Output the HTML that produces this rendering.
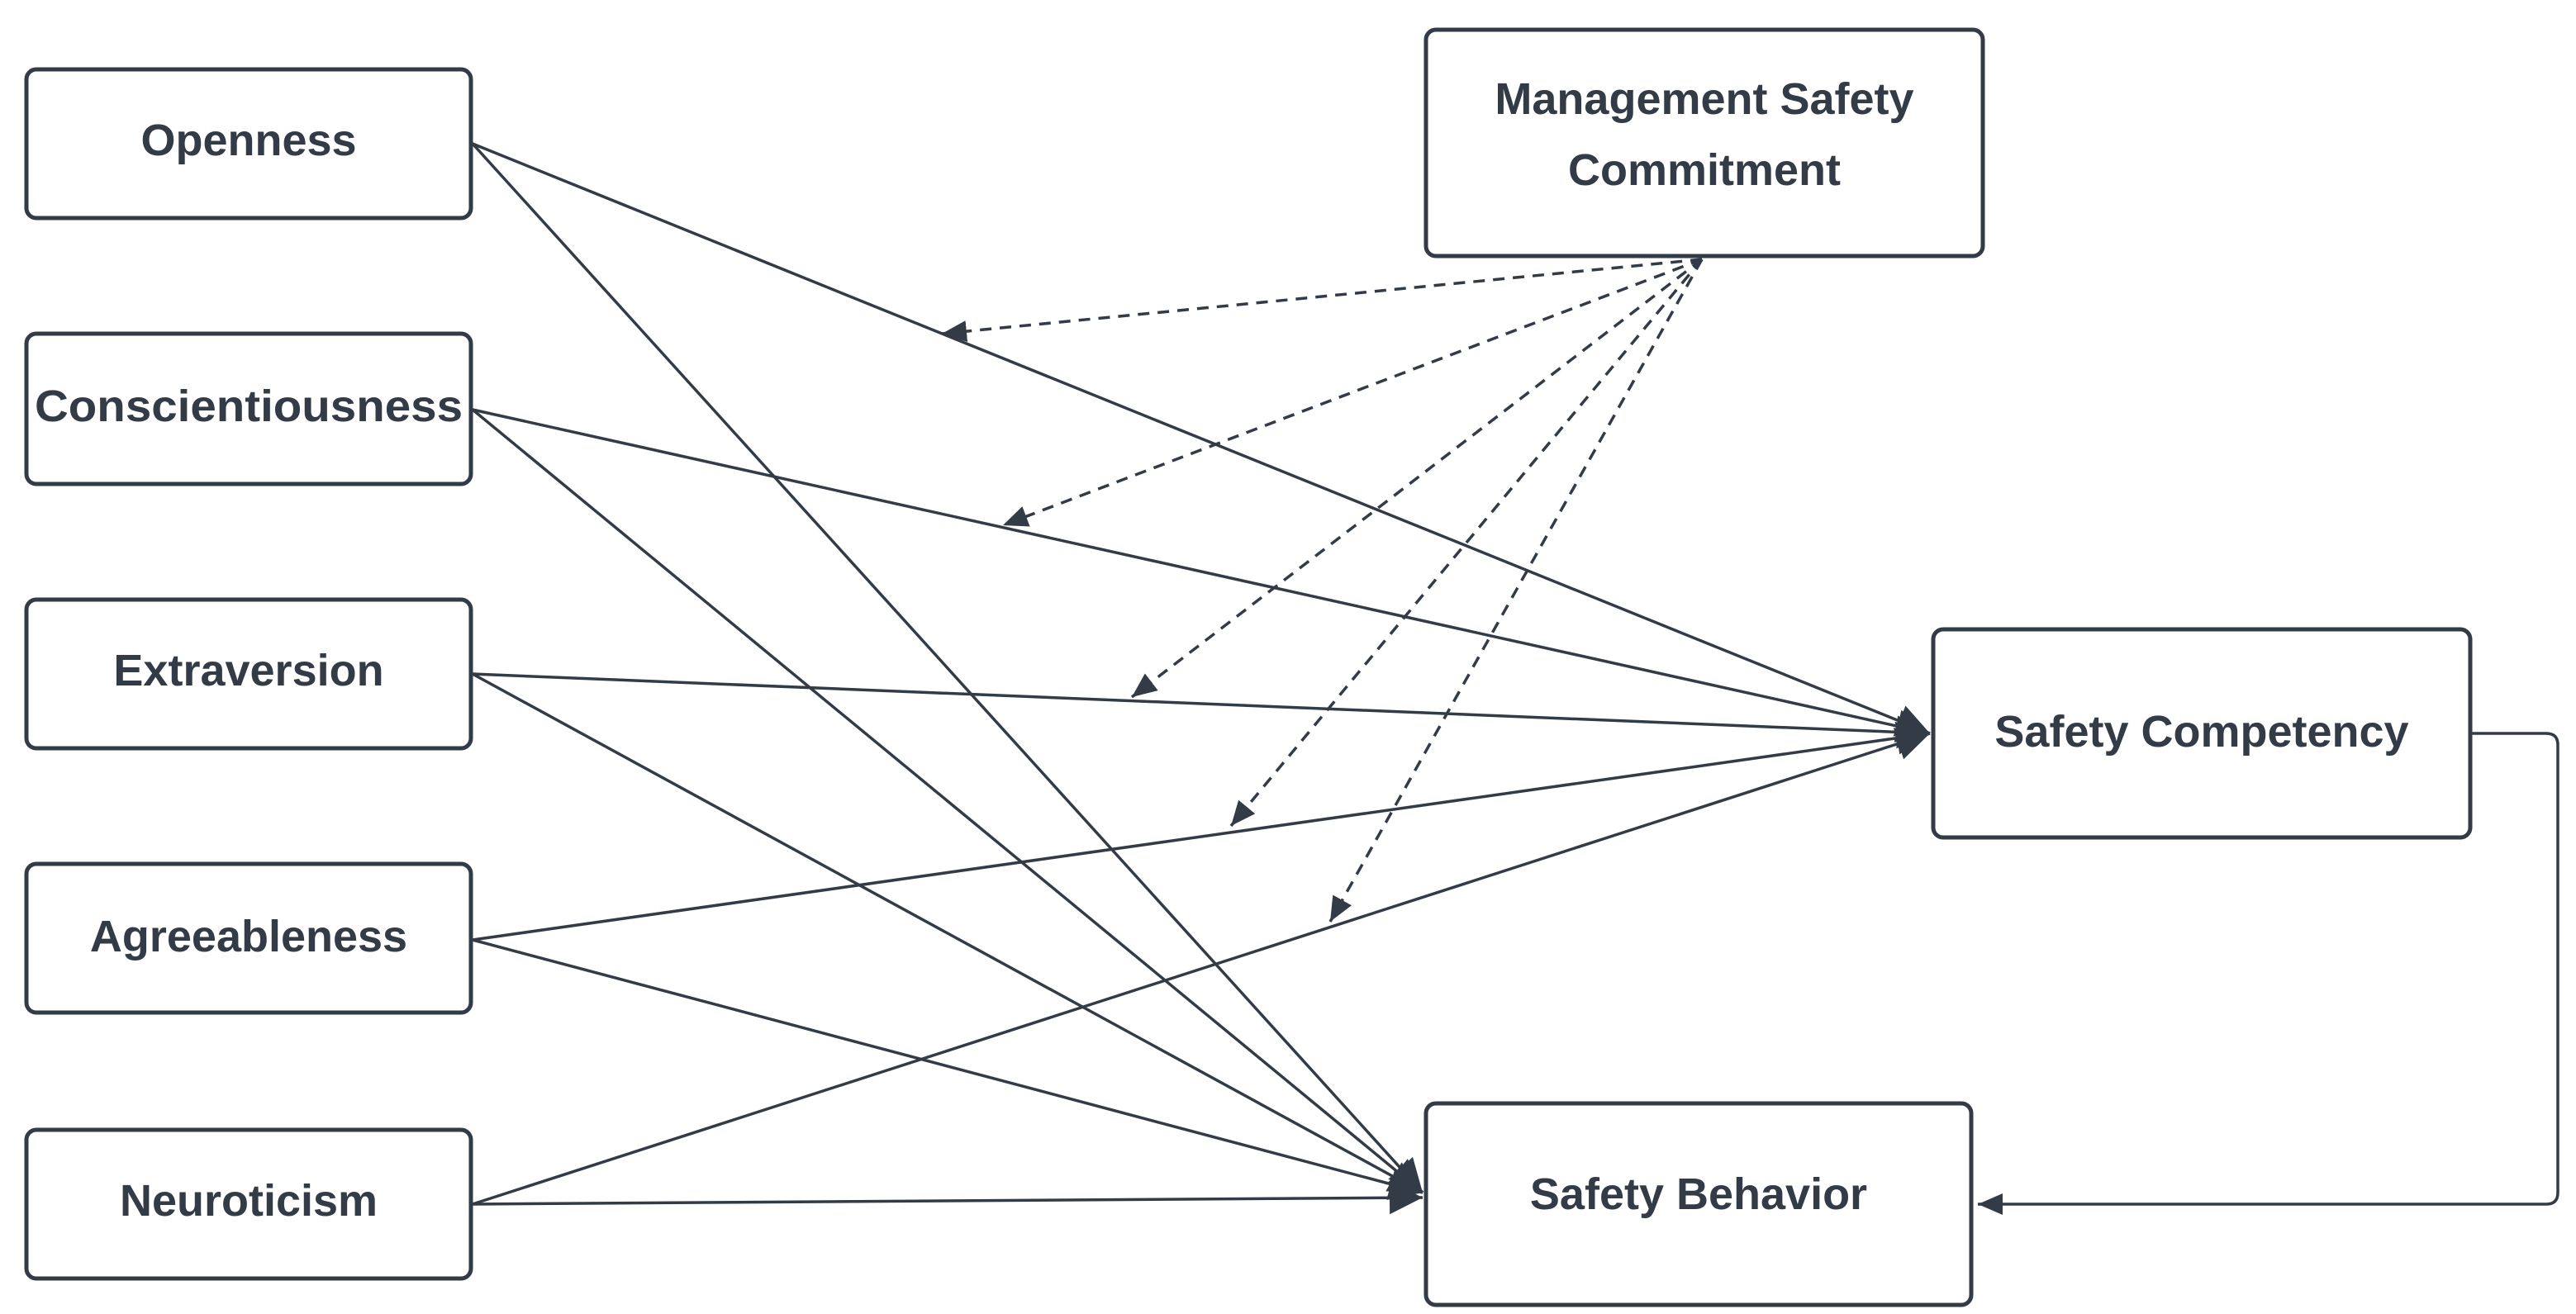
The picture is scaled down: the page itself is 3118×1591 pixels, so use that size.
<!DOCTYPE html>
<html><head><meta charset="utf-8"><style>
html,body{margin:0;padding:0;background:#fff;}
svg{display:block;}
text{font-family:"Liberation Sans",Arial,sans-serif;font-weight:bold;fill:#333b46;font-size:54px;}
</style></head><body>
<svg width="3118" height="1591" viewBox="0 0 3118 1591" xmlns="http://www.w3.org/2000/svg">
<defs>
<marker id="big" markerUnits="userSpaceOnUse" markerWidth="44" markerHeight="44" refX="40" refY="20" orient="auto"><path d="M0,0 L40,20 L0,40 z" fill="#333b46"/></marker>
<marker id="sm" markerUnits="userSpaceOnUse" markerWidth="34" markerHeight="30" refX="30" refY="13" orient="auto"><path d="M0,0 L30,13 L0,26 z" fill="#333b46"/></marker>
</defs>
<g fill="#fff" stroke="#333b46" stroke-width="5">
<rect x="32" y="84" width="538" height="180" rx="12"/>
<rect x="32" y="404" width="538" height="182" rx="12"/>
<rect x="32" y="726" width="538" height="180" rx="12"/>
<rect x="32" y="1046" width="538" height="180" rx="12"/>
<rect x="32" y="1368" width="538" height="180" rx="12"/>
<rect x="1726" y="36" width="674" height="274" rx="12"/>
<rect x="2340" y="762" width="650" height="252" rx="12"/>
<rect x="1726" y="1336" width="660" height="244" rx="12"/>
</g>
<g stroke="#333b46" stroke-width="3.5" fill="none">
<line x1="572" y1="174" x2="2336" y2="888" marker-end="url(#big)"/>
<line x1="572" y1="496" x2="2336" y2="888" marker-end="url(#big)"/>
<line x1="572" y1="816" x2="2336" y2="888" marker-end="url(#big)"/>
<line x1="572" y1="1138" x2="2336" y2="888" marker-end="url(#big)"/>
<line x1="572" y1="1458" x2="2336" y2="888" marker-end="url(#big)"/>
<line x1="572" y1="174" x2="1722" y2="1444" marker-end="url(#big)"/>
<line x1="572" y1="496" x2="1722" y2="1444" marker-end="url(#big)"/>
<line x1="572" y1="816" x2="1722" y2="1444" marker-end="url(#big)"/>
<line x1="572" y1="1138" x2="1722" y2="1444" marker-end="url(#big)"/>
<line x1="572" y1="1458" x2="1722" y2="1450" marker-end="url(#big)"/>
<g stroke-dasharray="14,10">
<line x1="2060" y1="314" x2="1140" y2="404" marker-end="url(#sm)"/>
<line x1="2060" y1="314" x2="1214" y2="636" marker-end="url(#sm)"/>
<line x1="2060" y1="314" x2="1370" y2="844" marker-end="url(#sm)"/>
<line x1="2060" y1="314" x2="1490" y2="1000" marker-end="url(#sm)"/>
<line x1="2060" y1="314" x2="1610" y2="1116" marker-end="url(#sm)"/>
</g>
<path d="M2992,888 L3082,888 Q3096,888 3096,902 L3096,1444 Q3096,1458 3082,1458 L2394,1458" marker-end="url(#sm)"/>
</g>
<g text-anchor="middle">
<text x="301" y="188">Openness</text>
<text x="301" y="510" textLength="518" lengthAdjust="spacingAndGlyphs">Conscientiousness</text>
<text x="301" y="830">Extraversion</text>
<text x="301" y="1152">Agreeableness</text>
<text x="301" y="1472">Neuroticism</text>
<text x="2063" y="138">Management Safety</text>
<text x="2063" y="224">Commitment</text>
<text x="2665" y="904">Safety Competency</text>
<text x="2056" y="1464">Safety Behavior</text>
</g>
</svg>
</body></html>
